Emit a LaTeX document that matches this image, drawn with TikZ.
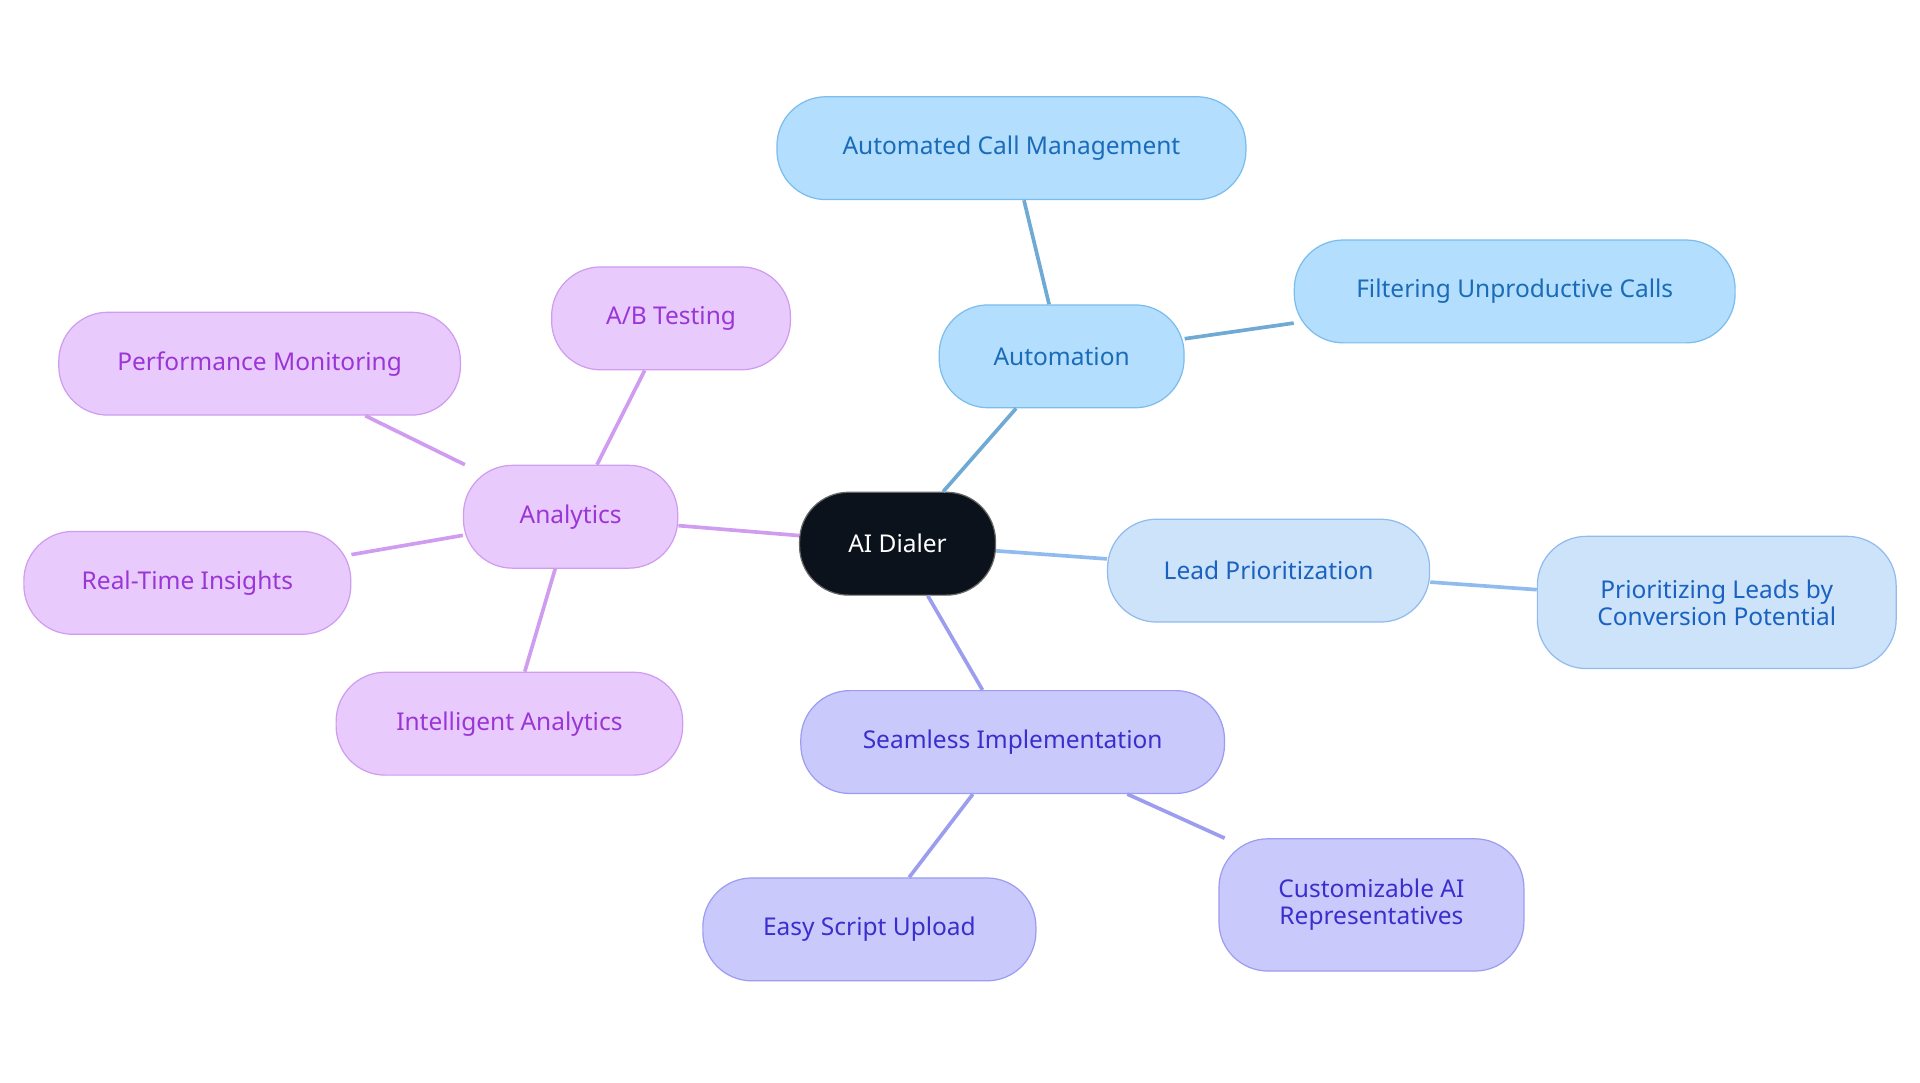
\documentclass[tikz,border=0pt]{standalone}
\usepackage{fontspec}
\setmainfont{Noto Sans}
\begin{document}
\begin{tikzpicture}[x=1pt,y=-1pt,
 base/.style={rounded corners=40pt,minimum height=84pt,align=center,font=\fontsize{20}{22}\selectfont,line width=1pt,inner sep=0pt},
 blue/.style={base,fill=cA,draw=cAd,text=cAt},
 lblue/.style={base,fill=cL,draw=cLd,text=cLt},
 vio/.style={base,fill=cS,draw=cSd,text=cSt},
 pur/.style={base,fill=cP,draw=cPd,text=cPt},
 eA/.style={draw=cAd!90!black,line width=3pt},
 eL/.style={draw=cLd,line width=3pt},
 eS/.style={draw=cSd,line width=3pt},
 eP/.style={draw=cPd,line width=3pt}]
\definecolor{cA}{HTML}{B3DEFD}\definecolor{cAd}{HTML}{7BBDEC}\definecolor{cAt}{HTML}{1A6BB8}
\definecolor{cL}{HTML}{CDE3FA}\definecolor{cLd}{HTML}{90BBEE}\definecolor{cLt}{HTML}{1A62C0}
\definecolor{cS}{HTML}{C9C9FC}\definecolor{cSd}{HTML}{9D9DF0}\definecolor{cSt}{HTML}{3A2FCC}
\definecolor{cP}{HTML}{E8CAFD}\definecolor{cPd}{HTML}{CF9CF0}\definecolor{cPt}{HTML}{9A35D6}
\useasboundingbox (0,0) rectangle (1568,884);
\node[base,fill=black!85!blue!60!black,fill={rgb,255:red,11;green,18;blue,27},draw=black!60,text=white,minimum width=160pt] (ai) at (733,444) {AI Dialer};
\node[blue,minimum width=200pt] (au) at (867,291) {Automation};
\node[blue,minimum width=383pt] (acm) at (826,121) {Automated Call Management};
\node[blue,minimum width=360pt] (fuc) at (1237,238) {Filtering Unproductive Calls};
\node[lblue,minimum width=263pt] (lp) at (1036,466) {Lead Prioritization};
\node[lblue,minimum width=293pt,minimum height=108pt] (pl) at (1402,492) {Prioritizing Leads by\\Conversion Potential};
\node[vio,minimum width=346pt] (si) at (827,606) {Seamless Implementation};
\node[vio,minimum width=272pt] (es) at (710,759) {Easy Script Upload};
\node[vio,minimum width=249pt,minimum height=108pt] (ca) at (1120,739) {Customizable AI\\Representatives};
\node[pur,minimum width=175pt] (an) at (466,422) {Analytics};
\node[pur,minimum width=195pt] (ab) at (548,260) {A/B Testing};
\node[pur,minimum width=328pt] (pm) at (212,297) {Performance Monitoring};
\node[pur,minimum width=267pt] (rt) at (153,476) {Real-Time Insights};
\node[pur,minimum width=283pt] (ia) at (416,591) {Intelligent Analytics};
\begin{scope}[on background layer/.try]
\end{scope}
\begin{pgfinterruptboundingbox}\end{pgfinterruptboundingbox}
\draw[eA] (ai) -- (au); \draw[eA] (au) -- (acm); \draw[eA] (au) -- (fuc);
\draw[eL] (ai) -- (lp); \draw[eL] (lp) -- (pl);
\draw[eS] (ai) -- (si); \draw[eS] (si) -- (es); \draw[eS] (si) -- (ca);
\draw[eP] (ai) -- (an); \draw[eP] (an) -- (ab); \draw[eP] (an) -- (pm); \draw[eP] (an) -- (rt); \draw[eP] (an) -- (ia);
\end{tikzpicture}
\end{document}
